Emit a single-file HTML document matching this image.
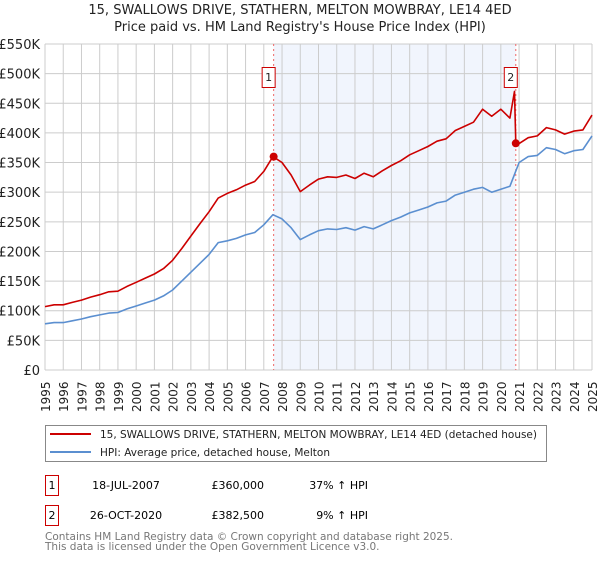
<!DOCTYPE html>
<html><head><meta charset="utf-8">
<style>
body{margin:0;background:#fff;font-family:"Liberation Sans","DejaVu Sans",sans-serif;}
svg text{font-family:"DejaVu Sans","Liberation Sans",sans-serif;}
</style></head>
<body>
<svg id="chart" width="600" height="560" xmlns="http://www.w3.org/2000/svg">
<text x="300" y="14" text-anchor="middle" font-size="13" fill="#222">15, SWALLOWS DRIVE, STATHERN, MELTON MOWBRAY, LE14 4ED</text>
<text x="300" y="31" text-anchor="middle" font-size="13" fill="#222">Price paid vs. HM Land Registry's House Price Index (HPI)</text>
<g id="plot"></g>
<g>
<rect x="45.5" y="425.5" width="501" height="36" fill="#fff" stroke="#888"/>
<line x1="50" y1="434" x2="91" y2="434" stroke="#cc0000" stroke-width="2"/>
<text x="100" y="438" font-size="10.5" fill="#222" textLength="437">15, SWALLOWS DRIVE, STATHERN, MELTON MOWBRAY, LE14 4ED (detached house)</text>
<line x1="50" y1="452" x2="91" y2="452" stroke="#5b8fd0" stroke-width="2"/>
<text x="100" y="456" font-size="10.5" fill="#222">HPI: Average price, detached house, Melton</text>
</g>
<g>
<rect x="45.5" y="475.5" width="13" height="20" fill="#fff" stroke="#cc0000"/>
<text x="52" y="489" text-anchor="middle" font-size="11">1</text>
<text x="126" y="489" text-anchor="middle" font-size="11">18-JUL-2007</text>
<text x="264" y="489" text-anchor="end" font-size="11">£360,000</text>
<text x="368" y="489" text-anchor="end" font-size="11">37% ↑ HPI</text>
<rect x="45.5" y="505.5" width="13" height="20" fill="#fff" stroke="#cc0000"/>
<text x="52" y="519" text-anchor="middle" font-size="11">2</text>
<text x="126" y="519" text-anchor="middle" font-size="11">26-OCT-2020</text>
<text x="264" y="519" text-anchor="end" font-size="11">£382,500</text>
<text x="368" y="519" text-anchor="end" font-size="11">9% ↑ HPI</text>
</g>
<text x="45" y="540" font-size="10.5" fill="#777" textLength="408">Contains HM Land Registry data © Crown copyright and database right 2025.</text>
<text x="45" y="550" font-size="10.5" fill="#777">This data is licensed under the Open Government Licence v3.0.</text>
</svg>
<script>
const hpiYears=[];for(let i=0;i<=60;i++)hpiYears.push(1995+i*0.5);
const hpiValues=[78,80,80,83,86,90,93,96,97,103,108,113,118,125,135,150,165,180,195,215,218,222,228,232,245,262,255,240,220,228,235,238,237,240,236,242,238,245,252,258,265,270,275,282,285,295,300,305,308,300,305,310,350,360,362,375,372,365,370,372,395];
const redYears=[];for(let i=0;i<=51;i++)redYears.push(1995+i*0.5);
redYears.push(2020.75,2020.82,2021,2021.5,2022,2022.5,2023,2023.5,2024,2024.5,2025);
const redValues=[107,110,110,114,118,123,127,132,133,141,148,155,162,171,185,205,226,247,267,290,298,304,312,318,335,360,350,329,301,312,322,326,325,329,323,332,326,336,345,353,363,370,377,386,390,404,411,418,440,428,440,425,470,382.5,382,392,395,409,405,398,403,405,430];
const saleYears=[2007.54,2020.82];
const saleValues=[360,382.5];
const saleLabels=["1","2"];
const yTicks=[0,50,100,150,200,250,300,350,400,450,500,550];
const xTicks=[];for(let y=1995;y<=2025;y++)xTicks.push(y);

const X0=45,X1=592,Y0=370,Y1=44;
const xs=y=>X0+(y-1995)/30*(X1-X0);
const ys=v=>Y0-v/550*(Y0-Y1);
const NS="http://www.w3.org/2000/svg";
const plot=document.getElementById('plot');
function mk(t,a,p){const e=document.createElementNS(NS,t);for(const k in a)e.setAttribute(k,a[k]);(p||plot).appendChild(e);return e;}

let sh=mk('rect',{x:xs(saleYears[0]),y:Y1,width:xs(saleYears[1])-xs(saleYears[0]),height:Y0-Y1,fill:'#eef3fc',opacity:0.8});


yTicks.forEach(v=>{
 const l=mk('line',{x1:X0,x2:X1,y1:ys(v),y2:ys(v),stroke:'#ccc','stroke-width':1});
 
 
 const t=mk('text',{x:40,y:ys(v)+5,'text-anchor':'end','font-size':'13',fill:'#222'});
 t.textContent=v===0?'£0':'£'+v+'K';
 
 
});
xTicks.forEach(y=>{
 const l=mk('line',{x1:xs(y),x2:xs(y),y1:Y1,y2:Y0,stroke:'#ccc','stroke-width':1});
 
 
 const t=mk('text',{x:0,y:0,'font-size':'12',fill:'#222',transform:`translate(${xs(y)+5},${412}) rotate(-90)`});
 t.textContent=y;
 
 
});
saleYears.forEach((y,i)=>{
 const l=mk('line',{x1:xs(y),x2:xs(y),y1:Y1,y2:Y0,stroke:'#ee6666','stroke-width':1,'stroke-dasharray':'2,3'});
 
 
});
function path(xsA,vs,col,name){
 const d=xsA.map((y,i)=>(i?'L':'M')+xs(y).toFixed(1)+','+ys(vs[i]).toFixed(1)).join('');
 const p=mk('path',{d:d,fill:'none',stroke:col,'stroke-width':1.6,'stroke-linejoin':'round'});
 
 
}
path(hpiYears,hpiValues,'#5b8fd0','hpi-line');
path(redYears,redValues,'#cc0000','property-price-line');
saleYears.forEach((y,i)=>{
 const c=mk('circle',{cx:xs(y),cy:ys(saleValues[i]),r:4,fill:'#cc0000'});
 
 
 const b=mk('rect',{x:xs(y)-11.5,y:67.5,width:13,height:20,fill:'#fff',stroke:'#cc0000'});
 
 
 const t=mk('text',{x:xs(y)-5,y:81,'text-anchor':'middle','font-size':'11',fill:'#222'});
 t.textContent=saleLabels[i];
 
 
});
</script>
</body></html>
